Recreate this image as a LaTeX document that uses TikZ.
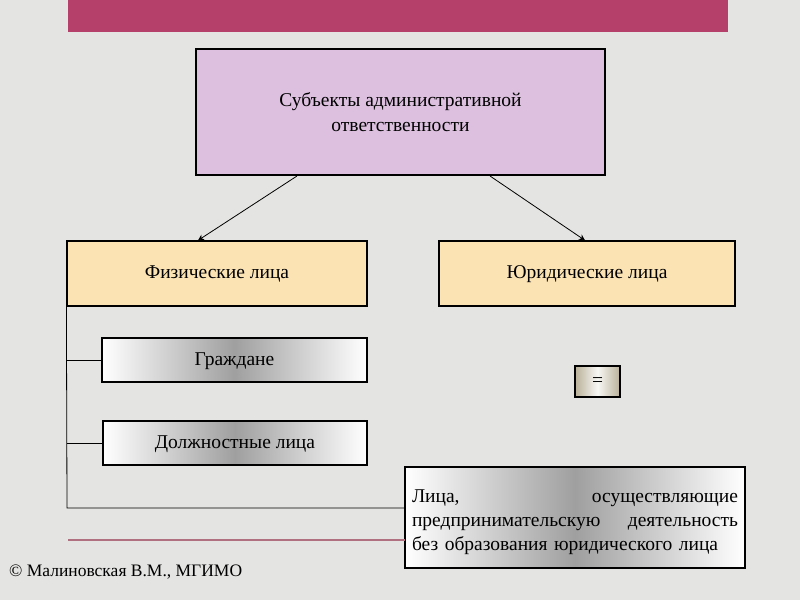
\documentclass[tikz,border=0pt]{standalone}
\usepackage{fontspec}
\setmainfont{Liberation Serif}
\usetikzlibrary{arrows.meta}
\definecolor{bg}{HTML}{E4E4E2}
\definecolor{topbar}{HTML}{B5406A}
\definecolor{lav}{HTML}{DDC0E0}
\definecolor{peach}{HTML}{FBE3B4}
\definecolor{pinkline}{HTML}{B07080}
\definecolor{khaki}{HTML}{B8B098}
\tikzset{
  bx/.style={draw=black, line width=1.2pt, inner sep=0pt, font=\fontsize{19.5}{25}\selectfont},
  one/.style={text height=13pt, text depth=3pt},
  grad/.style={bx, left color=white, right color=white, middle color=gray!75},
  conn/.style={draw=black, line width=0.8pt},
  arr/.style={conn, -{Stealth[length=6pt,width=6pt]}}
}
\begin{document}
\begin{tikzpicture}[x=1pt,y=-1pt]
\fill[bg] (0,0) rectangle (800,600);
\useasboundingbox (0,0) rectangle (800,600);
\fill[topbar] (68,0) rectangle (728,32);
\node[bx, fill=lav, minimum width=409, minimum height=126, align=center] (main) at (400.5,112) {Субъекты административной\\ответственности};
\node[bx, one, fill=peach, minimum width=300, minimum height=65] (fiz) at (217,273.5) {Физические лица};
\node[bx, one, fill=peach, minimum width=296, minimum height=65] (yur) at (587,273.5) {Юридические лица};
\node[grad, one, minimum width=265, minimum height=44] (gr) at (234.5,360) {Граждане};
\node[grad, one, minimum width=264, minimum height=44] (dl) at (235,443) {Должностные лица};
\node[bx, one, minimum width=45, minimum height=31, left color=khaki, right color=khaki, middle color=white!90!khaki] (eq) at (597.5,381.5) {=};
\node[grad, minimum width=340, minimum height=101] (ip) at (575,517.5) {};
\node[font=\fontsize{19.5}{24}\selectfont, text width=326, align=left, inner sep=0pt] (iptext) at (575,522) {Лица,\hfill осуществляющие\\ предпринимательскую\hfill деятельность\\ без образования юридического лица};
\coordinate (a1) at (297,176);
\coordinate (a2) at (490,176);
\draw[arr] (a1) -- (fiz.north -| 198,0);
\draw[arr] (a2) -- (yur.north -| 585,0);
\coordinate (c0) at (67,508);
\draw[conn] (fiz.south west) -- (c0) -- (c0 -| ip.west);
\draw[conn] (67,360) -- (gr.west);
\draw[conn] (67,443) -- (dl.west);
\draw[pinkline, line width=2pt] (68,540) -- (405,540);
\node[anchor=west, font=\fontsize{17.5}{20}\selectfont, inner sep=0pt] (copy) at (9,572) {© Малиновская В.М., МГИМО};
\end{tikzpicture}
\end{document}
